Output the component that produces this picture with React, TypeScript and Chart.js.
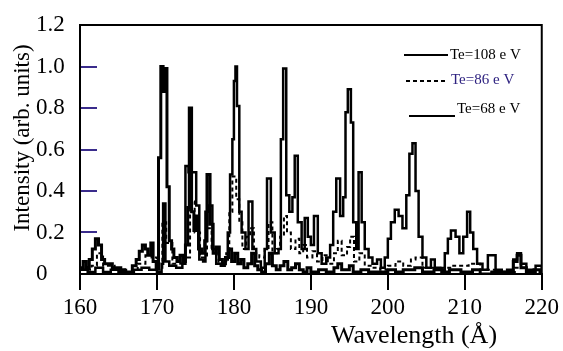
import React, { useEffect, useRef } from 'react';
import { Chart, registerables } from 'chart.js';

Chart.register(...registerables);

// Wavelength (Å) / normalized intensity for each electron temperature
const wl108 = [160, 161, 162, 163, 164, 165, 166, 167, 168, 169, 170, 170.6, 170.8, 171.1, 171.6, 172.5, 173.3, 173.7, 174.1, 174.6, 175.1, 175.5, 176.0, 176.3, 176.7, 177.2, 177.7, 178.3, 178.8, 179.2, 179.5, 179.8, 180.0, 180.2, 180.4, 180.7, 181.0, 181.5, 181.9, 182.4, 182.9, 183.5, 184.0, 184.3, 184.8, 185.3, 185.8, 186.1, 186.4, 186.8, 187.2, 187.6, 187.9, 188.3, 188.8, 189.2, 189.6, 190.0, 190.4, 190.9, 191.4, 192.0, 192.5, 192.9, 193.3, 193.8, 194.2, 194.5, 194.8, 195.2, 195.5, 195.9, 196.2, 196.6, 197.0, 197.5, 198.0, 198.6, 199.1, 199.6, 200.0, 200.4, 200.9, 201.4, 201.9, 202.4, 202.8, 203.2, 203.6, 204.0, 204.5, 205.0, 205.6, 206.1, 206.8, 207.4, 207.8, 208.2, 208.8, 209.3, 209.8, 210.3, 210.7, 211.1, 211.6, 212.3, 213.0, 213.5, 214.0, 214.8, 215.5, 216.3, 216.8, 217.3, 218.0, 218.8, 219.2, 219.6, 220];
const int108 = [0.02, 0.01, 0.03, 0.01, 0.02, 0.01, 0.0, 0.02, 0.03, 0.02, 0.01, 0.05, 0.34, 0.06, 0.04, 0.03, 0.05, 0.52, 0.49, 0.49, 0.33, 0.07, 0.06, 0.30, 0.33, 0.12, 0.05, 0.04, 0.07, 0.20, 0.48, 0.65, 0.93, 1.0, 0.81, 0.30, 0.20, 0.12, 0.35, 0.12, 0.06, 0.03, 0.12, 0.46, 0.20, 0.10, 0.12, 0.65, 0.99, 0.38, 0.30, 0.37, 0.57, 0.25, 0.12, 0.27, 0.18, 0.14, 0.28, 0.10, 0.05, 0.08, 0.14, 0.30, 0.46, 0.28, 0.37, 0.78, 0.89, 0.73, 0.25, 0.12, 0.49, 0.25, 0.12, 0.08, 0.05, 0.07, 0.03, 0.08, 0.17, 0.25, 0.31, 0.28, 0.22, 0.38, 0.58, 0.63, 0.40, 0.18, 0.08, 0.03, 0.07, 0.03, 0.02, 0.10, 0.17, 0.21, 0.18, 0.10, 0.18, 0.30, 0.20, 0.12, 0.05, 0.02, 0.09, 0.09, 0.02, 0.01, 0.02, 0.07, 0.10, 0.05, 0.02, 0.01, 0.04, 0.04, 0.02];

const wl86 = [160, 161.5, 162.2, 163, 164.5, 166, 167.5, 168.5, 169.3, 170, 170.7, 171.2, 172, 173.5, 174.3, 174.9, 175.6, 176.5, 177.1, 178, 179, 179.4, 179.8, 180.3, 180.7, 181.1, 181.6, 182.1, 182.6, 183.3, 184.0, 184.5, 185.0, 185.6, 186.0, 186.5, 186.9, 187.4, 188.0, 188.5, 189.0, 189.5, 190.2, 190.8, 191.5, 192.2, 193.0, 193.5, 194.0, 194.7, 195.1, 195.6, 196.3, 197, 198, 199, 200, 201, 202, 203, 203.6, 204.5, 206, 207, 208.5, 210.5, 212, 214, 216.5, 218, 220];
const int86 = [0.02, 0.04, 0.10, 0.04, 0.02, 0.0, 0.05, 0.09, 0.08, 0.02, 0.25, 0.15, 0.05, 0.08, 0.35, 0.20, 0.08, 0.22, 0.12, 0.05, 0.10, 0.30, 0.47, 0.36, 0.25, 0.12, 0.18, 0.22, 0.10, 0.08, 0.12, 0.25, 0.10, 0.12, 0.18, 0.28, 0.20, 0.12, 0.17, 0.10, 0.14, 0.08, 0.11, 0.06, 0.09, 0.05, 0.10, 0.16, 0.09, 0.13, 0.18, 0.06, 0.10, 0.04, 0.03, 0.02, 0.04, 0.06, 0.04, 0.07, 0.08, 0.03, 0.02, 0.03, 0.04, 0.05, 0.02, 0.01, 0.03, 0.01, 0.01];

const wl68 = [160.0, 160.4, 160.8, 161.2, 161.6, 162.0, 162.4, 162.8, 163.2, 163.7, 164.2, 164.8, 165.3, 165.8, 166.3, 166.8, 167.3, 167.7, 168.1, 168.5, 168.8, 169.2, 169.5, 169.9, 170.2, 170.5, 170.8, 171.0, 171.3, 171.6, 171.9, 172.2, 172.6, 173.0, 173.4, 173.7, 174.0, 174.2, 174.5, 174.8, 175.1, 175.4, 175.8, 176.2, 176.5, 176.9, 177.3, 177.7, 178.1, 178.5, 178.9, 179.3, 179.7, 180.1, 180.5, 180.9, 181.3, 181.8, 182.3, 182.7, 183.1, 183.6, 184.1, 184.6, 185.0, 185.5, 186.0, 186.5, 187.0, 187.5, 188.0, 188.5, 189.0, 189.5, 190.0, 191, 192, 193, 193.5, 194, 195, 195.5, 196.5, 197.5, 199, 200, 201, 202, 203.5, 204.5, 206, 207, 208, 209.5, 211, 212, 213.5, 215, 216.3, 216.8, 217.3, 218, 219, 220];
const int68 = [0.03, 0.06, 0.03, 0.07, 0.12, 0.17, 0.14, 0.07, 0.05, 0.05, 0.03, 0.03, 0.02, 0.0, 0.01, 0.04, 0.07, 0.11, 0.14, 0.12, 0.09, 0.15, 0.06, 0.03, 0.56, 1.0, 0.88, 0.99, 0.42, 0.16, 0.12, 0.08, 0.06, 0.09, 0.06, 0.14, 0.32, 0.80, 0.30, 0.21, 0.28, 0.12, 0.10, 0.16, 0.48, 0.24, 0.10, 0.13, 0.07, 0.05, 0.08, 0.12, 0.06, 0.10, 0.05, 0.07, 0.03, 0.05, 0.10, 0.04, 0.02, 0.01, 0.05, 0.10, 0.04, 0.02, 0.04, 0.06, 0.02, 0.03, 0.05, 0.02, 0.01, 0.03, 0.01, 0.02, 0.01, 0.03, 0.05, 0.02, 0.04, 0.01, 0.02, 0.01, 0.01, 0.02, 0.01, 0.02, 0.03, 0.01, 0.02, 0.01, 0.02, 0.01, 0.02, 0.0, 0.01, 0.01, 0.06, 0.09, 0.03, 0.01, 0.02, 0.02];

const xTickValues = [160, 170, 180, 190, 200, 210, 220];
const yTickValues = [0, 0.2, 0.4, 0.6, 0.8, 1.0, 1.2];
const innerYTicks = [0.2, 0.4, 0.6, 0.8, 1.0];
const legendLabels = ['Te=108 e V', 'Te=86 e V', 'Te=68 e V'];
const legendColors = ['#000000', '#2e2280', '#000000'];
const yTitle = 'Intensity (arb. units)';
const xTitle = 'Wavelength (Å)';

const FONT = "'Liberation Serif', 'Times New Roman', serif";

export default function App() {
  const ref = useRef<HTMLCanvasElement>(null);

  useEffect(() => {
    const canvas = ref.current;
    if (!canvas) return;
    const pts = (xs: number[], ys: number[]) => xs.map((x, i) => ({ x, y: ys[i] }));

    const framePlugin = {
      id: 'frame',
      afterDraw(chart: any) {
        const { ctx, chartArea: a, scales } = chart;
        ctx.save();
        // inward y ticks
        ctx.strokeStyle = '#3a2c8c';
        ctx.lineWidth = 2;
        innerYTicks.forEach((v) => {
          const y = Math.round(scales.y.getPixelForValue(v));
          ctx.beginPath();
          ctx.moveTo(a.left, y);
          ctx.lineTo(a.left + 17, y);
          ctx.stroke();
        });
        // frame
        ctx.strokeStyle = '#000';
        ctx.lineWidth = 2;
        ctx.strokeRect(a.left, a.top, a.right - a.left, a.bottom - a.top);
        // axis titles
        ctx.fillStyle = '#000';
        ctx.font = `23px ${FONT}`;
        ctx.textAlign = 'center';
        ctx.textBaseline = 'middle';
        ctx.save();
        ctx.translate(23, 138);
        ctx.rotate(-Math.PI / 2);
        ctx.fillText(yTitle, 0, 0);
        ctx.restore();
        ctx.font = `26px ${FONT}`;
        ctx.fillText(xTitle, 414, 336);
        // legend
        const rows = [
          { x0: 404, x1: 448, ly: 55, tx: 450, ty: 55 },
          { x0: 406, x1: 447, ly: 81, tx: 451, ty: 80 },
          { x0: 409, x1: 455, ly: 116, tx: 457, ty: 109 },
        ];
        ctx.font = `15px ${FONT}`;
        ctx.textAlign = 'left';
        rows.forEach((r, i) => {
          const ds = chart.data.datasets[i];
          ctx.strokeStyle = '#000';
          ctx.lineWidth = 2;
          ctx.setLineDash(ds.borderDash || []);
          ctx.beginPath();
          ctx.moveTo(r.x0, r.ly);
          ctx.lineTo(r.x1, r.ly);
          ctx.stroke();
          ctx.setLineDash([]);
          ctx.fillStyle = legendColors[i];
          ctx.fillText(legendLabels[i], r.tx, r.ty);
        });
        ctx.restore();
      },
    };

    const chart = new Chart(canvas, {
      type: 'line',
      data: {
        datasets: [
          { label: legendLabels[0], data: pts(wl108, int108), borderColor: '#000', borderWidth: 2.5, stepped: true, pointRadius: 0, fill: false },
          { label: legendLabels[1], data: pts(wl86, int86), borderColor: '#000', borderWidth: 2, borderDash: [4, 3], stepped: true, pointRadius: 0, fill: false },
          { label: legendLabels[2], data: pts(wl68, int68), borderColor: '#000', borderWidth: 3, stepped: true, pointRadius: 0, fill: false },
        ],
      },
      options: {
        animation: false,
        responsive: false,
        layout: { padding: { left: 36, top: 25, right: 17, bottom: 0 } },
        plugins: { legend: { display: false }, tooltip: { enabled: false } },
        scales: {
          x: {
            type: 'linear',
            min: 160,
            max: 220,
            afterBuildTicks: (s: any) => { s.ticks = xTickValues.map((v) => ({ value: v })); },
            afterFit: (s: any) => { s.height = 77; },
            ticks: { color: '#000', font: { family: FONT, size: 23 }, padding: 4, maxRotation: 0, autoSkip: false },
            grid: { drawOnChartArea: false, drawTicks: true, tickLength: 16, color: '#000', lineWidth: 2 },
            border: { color: '#000', width: 2 },
          },
          y: {
            min: 0,
            max: 1.2,
            afterBuildTicks: (s: any) => { s.ticks = yTickValues.map((v) => ({ value: v })); },
            afterFit: (s: any) => { s.width = 44; },
            ticks: {
              color: '#000',
              font: { family: FONT, size: 23 },
              crossAlign: 'far',
              autoSkip: false,
              callback: (v: any) => (Number(v) === 0 ? '0' : Number(v).toFixed(1)),
            },
            grid: { drawOnChartArea: false, drawTicks: false },
            border: { color: '#000', width: 2 },
          },
        },
      },
      plugins: [framePlugin],
    });
    return () => chart.destroy();
  }, []);

  return (
    <div style={{ position: 'fixed', left: 0, top: 0, width: 563, height: 351, background: '#fff' }}>
      <canvas ref={ref} width={563} height={351} style={{ display: 'block' }} />
    </div>
  );
}
